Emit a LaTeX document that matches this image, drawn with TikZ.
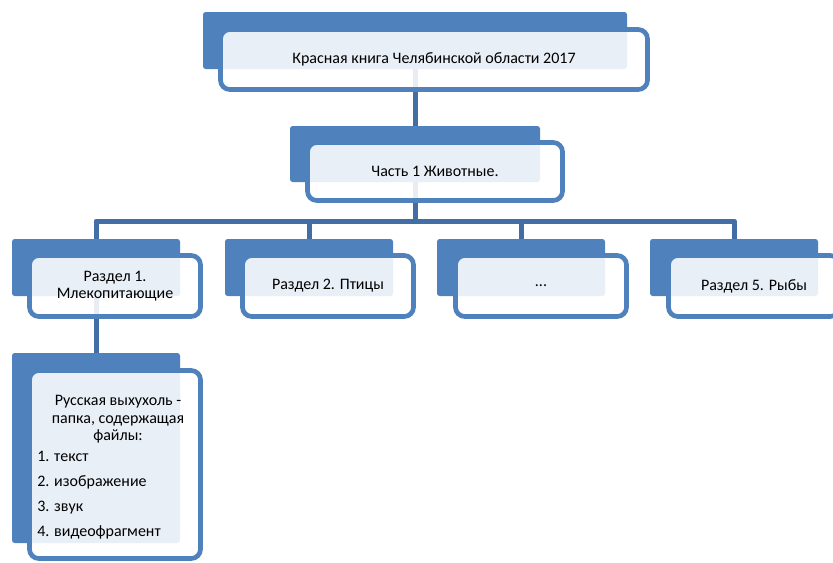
\documentclass[tikz,border=0pt]{standalone}
\usepackage{fontspec}
\setmainfont{Carlito}
\usepackage{tikz}

\definecolor{backblue}{RGB}{79,129,189}
\definecolor{lineblue}{RGB}{66,110,165}

\tikzset{
	back/.style={fill=backblue, rounded corners=2pt, inner sep=0pt},
	front/.style={draw=backblue, line width=3.5pt, fill=white, fill opacity=0.88, text opacity=1,
		rounded corners=7pt, inner sep=0pt, align=center, font=\fontsize{12pt}{13.2pt}\selectfont},
	txt/.style={inner sep=0pt, font=\fontsize{12pt}{13.2pt}\selectfont},
	conn/.style={draw=lineblue, line width=3.75pt, line join=round},
}

\begin{document}
\begin{tikzpicture}[x=0.75pt, y=-0.75pt]
	\useasboundingbox (0,0) rectangle (833,562);
	\clip (0,0) rectangle (833,562);

	% Back panels
	%Book
	\node[back, minimum width=318pt, minimum height=42.75pt] (b0) at (415,40.5) {};
	%Part
	\node[back, minimum width=187.5pt, minimum height=42pt] (b1) at (415,154) {};
	%Sections
	\foreach \n/\x in {1/96, 2/309, 3/521, 4/734}
		\node[back, minimum width=126pt, minimum height=42.75pt] (b2\n) at (\x,267.5) {};
	%Folder
	\node[back, minimum width=126pt, minimum height=142.5pt] (b3) at (96,448) {};

	% Connectors
	\coordinate (bus) at (415,221);
	\draw[conn] (b0.south) -- (b1.north);
	\draw[conn] (b1.south) -- (bus);
	\foreach \n in {1,...,4}
		\draw[conn] (bus) -| (b2\n.north);
	\draw[conn] (b21.south) -- (b3.north);

	% Front panels with text
	\node[front, minimum width=320.25pt, minimum height=45pt] (f0) at (434,59.5) {Красная книга Челябинской области 2017};
	\node[front, minimum width=191.25pt, minimum height=43.5pt] (f1) at (435,171.5) {Часть 1 Животные.};
	\node[front, minimum width=128.25pt, minimum height=45.75pt] (f21) at (115,286) {Раздел 1.\\Млекопитающие};
	\node[front, minimum width=128.25pt, minimum height=45.75pt] (f22) at (328,286) {Раздел 2. Птицы};
	\node[front, minimum width=128.25pt, minimum height=45.75pt] (f23) at (541,286) {...};
	\node[front, minimum width=128.25pt, minimum height=45.75pt] (f24) at (754,286) {Раздел 5. Рыбы};
	\node[front, minimum width=128.25pt, minimum height=141pt] (f3) at (115,464.5) {};

	%Folder contents
	\node[txt, align=center] (t3) at (118,419.5) {Русская выхухоль -\\папка, содержащая\\файлы:};
	\node[txt, align=left, anchor=west] (l3) at (37,495.5) {1. текст\\[5.5pt]2. изображение\\[5.5pt]3. звук\\[5.5pt]4. видеофрагмент};

\end{tikzpicture}
\end{document}
